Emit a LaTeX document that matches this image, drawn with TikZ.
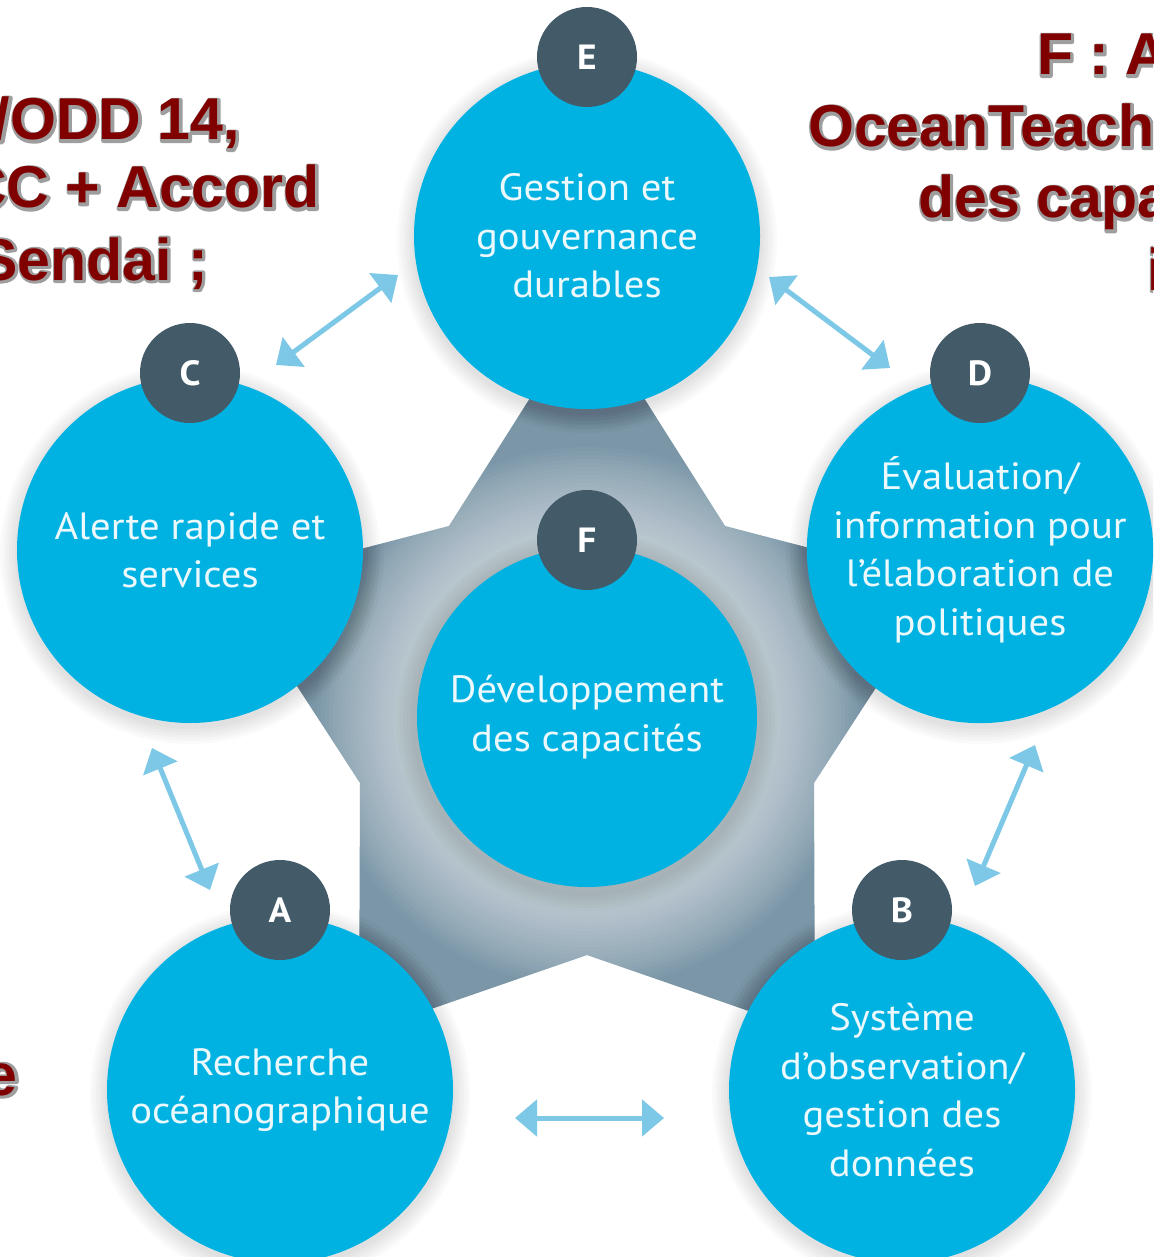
\documentclass[tikz,border=0pt]{standalone}
\usepackage{fontspec}
\setmainfont{Liberation Sans}
\newfontfamily\circfont{PT Sans}[FakeStretch=1.07]
\usetikzlibrary{arrows.meta}
\definecolor{cblue}{RGB}{0,178,226}
\definecolor{badgec}{RGB}{67,90,105}
\definecolor{starc}{RGB}{122,150,167}
\definecolor{arrowc}{RGB}{125,200,230}
\definecolor{redt}{RGB}{128,0,0}
\definecolor{olc}{RGB}{158,158,158}
\definecolor{ctext}{RGB}{235,248,252}
\newcommand\outlined[1]{\leavevmode\rlap{\raisebox{-0.8pt}{\kern0.8pt\color{olc}\special{pdf:literal direct 2 Tr 4.6 w 1 j}#1\special{pdf:literal direct 0 Tr}}}#1}
\begin{document}
\begin{tikzpicture}[x=1pt,y=-1pt,
  bigcirc/.style={circle,fill=cblue,minimum size=346pt,inner sep=0pt,
    text=ctext,align=center,font=\circfont\fontsize{38}{48.5}\selectfont},
  badge/.style={circle,fill=badgec,minimum size=100pt,inner sep=0pt,
    text=white,font=\circfont\bfseries\fontsize{35}{40}\selectfont},
  arr/.style={line width=5pt,draw=arrowc,
    {Triangle[length=22pt,width=36pt]}-{Triangle[length=22pt,width=36pt]}},
  redtxt/.style={inner sep=0pt,text=redt,font=\bfseries\fontsize{59}{70}\selectfont}]
\useasboundingbox (0,0) rectangle (1153,1257);
\clip (0,0) rectangle (1153,1257);
\fill[white] (0,0) rectangle (1153,1257);
% centres
\coordinate (cE) at (587,236);
\coordinate (cC) at (190,550);
\coordinate (cD) at (980,550);
\coordinate (cA) at (280,1090);
\coordinate (cB) at (902,1090);
\coordinate (cF) at (587,717);
% star
\path[fill=starc] (587,308) -- (725,526) -- (944,583) -- (814,783) -- (815,1034)
  -- (587,955) -- (359,1034) -- (360,783) -- (230,583) -- (449,526) -- cycle;
\begin{scope}
\clip (587,308) -- (725,526) -- (944,583) -- (814,783) -- (815,1034)
  -- (587,955) -- (359,1034) -- (360,783) -- (230,583) -- (449,526) -- cycle;
\foreach \i in {0,...,24} {
  \fill[white,opacity=0.035] (cF) circle[radius={(270-4*\i)*1pt}];
}
\foreach \n in {cE,cC,cD,cA,cB} {
  \foreach \i in {0,...,4} {
    \fill[black,opacity=0.025] ([yshift=-3pt]\n) circle[radius={(194-4*\i)*1pt}];
  }
}
\end{scope}
% shadows of circles on white
\foreach \n in {cE,cC,cD,cA,cB,cF} {
  \foreach \i in {0,...,5} {
    \fill[black,opacity=0.02] ([yshift=-4pt]\n) circle[radius={(190-3*\i)*1pt}];
  }
}
% circles
\node[bigcirc] (E) at (cE) {Gestion et\\gouvernance\\durables};
\node[bigcirc] (C) at (cC) {Alerte rapide et\\services};
\node[bigcirc] (D) at (cD) {Évaluation/\\information pour\\l’élaboration de\\politiques};
\node[bigcirc,minimum size=340pt] (F) at (cF) {Développement\\des capacités};
\node[bigcirc] (A) at (cA) {Recherche\\océanographique};
\node[bigcirc] (B) at (cB) {Système\\d’observation/\\gestion des\\données};
% badges
\node[badge] (bE) at (587,57) {E};
\node[badge] (bC) at (190,373) {C};
\node[badge] (bD) at (980,373) {D};
\node[badge] (bF) at (587,540) {F};
\node[badge] (bA) at (280,910) {A};
\node[badge] (bB) at (902,910) {B};
% arrows
\coordinate (ec1) at (276,365);
\coordinate (ec2) at (398,275);
\coordinate (ed1) at (769,277);
\coordinate (ed2) at (890,368);
\coordinate (ca1) at (152,748);
\coordinate (ca2) at (210,890);
\coordinate (db1) at (1035,745);
\coordinate (db2) at (975,886);
\coordinate (ab1) at (515,1118);
\coordinate (ab2) at (664,1118);
\draw[arr] (ec1) -- (ec2);
\draw[arr] (ed1) -- (ed2);
\draw[arr] (ca1) -- (ca2);
\draw[arr] (db1) -- (db2);
\draw[arr] (ab1) -- (ab2);
% red texts
\node[redtxt,anchor=base east] (l1) at (240,140) {\outlined{/ODD 14,}};
\node[redtxt,anchor=base east] (l2) at (320,208) {\outlined{CC + Accord}};
\node[redtxt,anchor=base east] (l3) at (208,280) {\outlined{Sendai ;}};
\node[redtxt,anchor=base west] (r1) at (1037,75) {\outlined{F : A}};
\node[redtxt,anchor=base west] (r2) at (808,147) {\outlined{OceanTeach}};
\node[redtxt,anchor=base west] (r3) at (918,218) {\outlined{des capa}};
\node[redtxt,anchor=base west] (r4) at (1147,290) {\outlined{i}};
\node[redtxt,anchor=base east] (le) at (18,1095) {\outlined{e}};
\end{tikzpicture}
\end{document}
